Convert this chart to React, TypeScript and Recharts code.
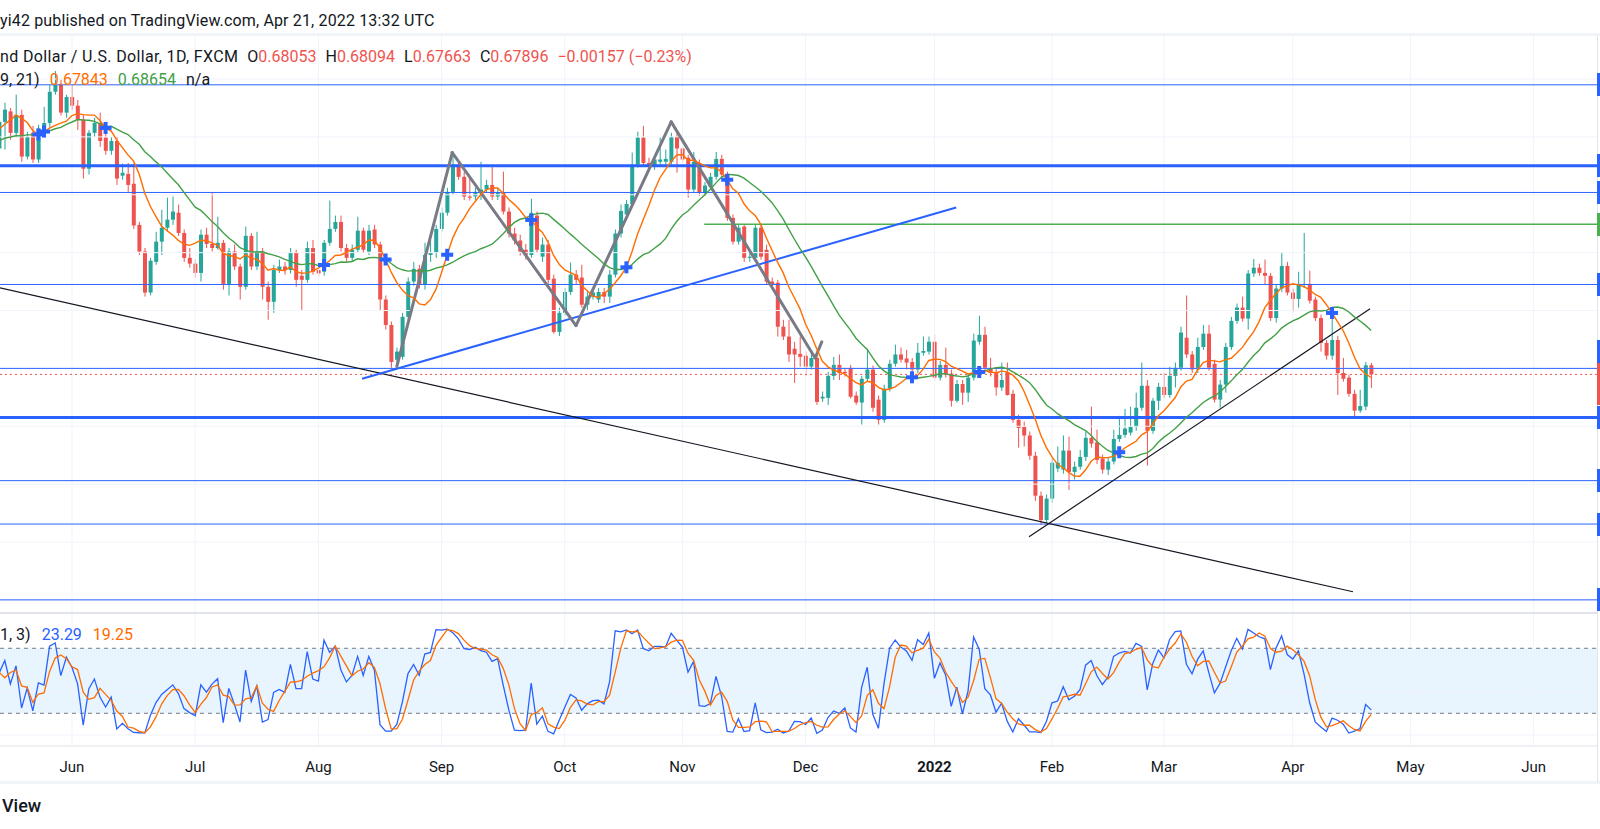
import React from 'react';
import { Bar, ComposedChart, Line, ReferenceArea, ReferenceLine, XAxis, YAxis } from 'recharts';

// NZD/USD, 1D, FXCM. One row per weekday: [open, high, low, close] in pips (price x 10000).
// Apr 12 - May 12 2021 lie left of the visible window; they only feed the 9/21 averages and the stochastic.
const priorBars = [
  [7020, 7045, 7005, 7030], [7030, 7095, 7020, 7090], [7090, 7150, 7080, 7140], [7140, 7170, 7125, 7160], [7160, 7180, 7145, 7165],
  [7165, 7200, 7150, 7190], [7190, 7215, 7160, 7170], [7170, 7185, 7140, 7165], [7165, 7185, 7145, 7160], [7160, 7200, 7150, 7190],
  [7190, 7215, 7180, 7200], [7200, 7210, 7165, 7180], [7180, 7225, 7170, 7215], [7215, 7225, 7180, 7195], [7195, 7200, 7145, 7155],
  [7155, 7180, 7140, 7170], [7170, 7175, 7120, 7140], [7140, 7170, 7130, 7165], [7165, 7225, 7155, 7215], [7215, 7290, 7205, 7265],
  [7265, 7305, 7255, 7285], [7285, 7295, 7250, 7275], [7275, 7285, 7165, 7180],
];

const may21 = [
  [7180, 7238, 7161, 7226], [7226, 7259, 7178, 7247], [7244, 7250, 7195, 7207], [7207, 7273, 7199, 7238], [7238, 7247, 7157, 7166],
  [7166, 7209, 7161, 7200], [7207, 7219, 7155, 7161], [7161, 7221, 7155, 7214], [7214, 7252, 7207, 7224], [7224, 7290, 7216, 7278],
  [7278, 7314, 7273, 7290], [7290, 7299, 7237, 7242], [7242, 7273, 7233, 7269],
];

const jun21 = [
  [7269, 7290, 7247, 7254], [7254, 7264, 7212, 7230], [7230, 7238, 7128, 7145], [7145, 7212, 7135, 7207], [7207, 7233, 7200, 7224],
  [7224, 7242, 7183, 7193], [7199, 7212, 7169, 7176], [7176, 7200, 7169, 7193], [7193, 7200, 7117, 7128], [7133, 7154, 7126, 7138],
  [7136, 7155, 7105, 7117], [7119, 7154, 7041, 7047], [7048, 7053, 6996, 7002], [7002, 7008, 6924, 6931], [6931, 6991, 6926, 6986],
  [6984, 7036, 6979, 7019], [7019, 7074, 6996, 7043], [7043, 7095, 7036, 7057], [7057, 7097, 7048, 7071], [7069, 7083, 7029, 7034],
  [7034, 7040, 6984, 6991], [6991, 7008, 6974, 6981],
];

const jul21 = [
  [6981, 6988, 6957, 6965], [6965, 7040, 6950, 7031], [7031, 7043, 7008, 7015], [7015, 7103, 7002, 7008], [7008, 7062, 7005, 7017],
  [7017, 7022, 6936, 6946], [6946, 7008, 6926, 7002], [7002, 7014, 6970, 6976], [6976, 6981, 6919, 6941], [6941, 7045, 6936, 7029],
  [7029, 7034, 6970, 6976], [6976, 7036, 6970, 7002], [7002, 7008, 6919, 6941], [6941, 6950, 6884, 6915], [6915, 6979, 6896, 6970],
  [6970, 6988, 6965, 6976], [6976, 6984, 6962, 6970], [6970, 7008, 6964, 7000], [7000, 7005, 6941, 6953], [6960, 6970, 6901, 6953],
  [6953, 7019, 6948, 7008], [7008, 7022, 6962, 6967],
];

const aug21 = [
  [6970, 6981, 6957, 6964], [6967, 7022, 6960, 7017], [7017, 7090, 7012, 7041], [7041, 7064, 7036, 7053], [7053, 7064, 7002, 7008],
  [7008, 7015, 6984, 6991], [6991, 7014, 6984, 7005], [7005, 7062, 7000, 7038], [7038, 7043, 7000, 7005], [7002, 7048, 6996, 7038],
  [7040, 7048, 7008, 7014], [7014, 7019, 6901, 6919], [6919, 6926, 6867, 6875], [6875, 6881, 6801, 6811], [6815, 6836, 6803, 6829],
  [6820, 6896, 6815, 6889], [6889, 6957, 6884, 6950], [6950, 6984, 6943, 6972], [6972, 6979, 6938, 6945], [6945, 7017, 6936, 6996],
  [6996, 7022, 6984, 7000], [7000, 7048, 6991, 7041],
];

const sep21 = [
  [7041, 7078, 7036, 7069], [7069, 7112, 7064, 7105], [7105, 7173, 7100, 7152], [7152, 7157, 7126, 7131], [7131, 7140, 7091, 7097],
  [7097, 7129, 7090, 7095], [7097, 7112, 7091, 7105], [7105, 7157, 7091, 7109], [7109, 7126, 7103, 7117], [7117, 7152, 7091, 7097],
  [7097, 7112, 7091, 7103], [7103, 7140, 7066, 7071], [7071, 7078, 7026, 7033], [7033, 7043, 7014, 7021], [7021, 7031, 6995, 7002],
  [7005, 7015, 6988, 6996], [6996, 7093, 6991, 7069], [7064, 7071, 7000, 7005], [6993, 7026, 6984, 7014], [7014, 7022, 6946, 6953],
  [6955, 6962, 6860, 6863], [6863, 6905, 6856, 6896],
];

const oct21 = [
  [6896, 6939, 6891, 6932], [6932, 6983, 6927, 6962], [6962, 6970, 6946, 6953], [6957, 6979, 6905, 6910], [6910, 6932, 6901, 6924],
  [6924, 6939, 6919, 6931], [6919, 6939, 6913, 6932], [6932, 6939, 6913, 6924], [6924, 6970, 6913, 6962], [6962, 7040, 6957, 7033],
  [7033, 7083, 7026, 7072], [7066, 7091, 7060, 7084], [7084, 7173, 7079, 7152], [7152, 7209, 7147, 7199], [7199, 7219, 7148, 7155],
  [7155, 7164, 7143, 7148], [7148, 7169, 7143, 7161], [7157, 7199, 7152, 7161], [7157, 7178, 7152, 7162], [7157, 7207, 7152, 7200],
  [7200, 7207, 7138, 7180],
];

const nov21 = [
  [7180, 7183, 7155, 7161], [7164, 7169, 7095, 7109], [7109, 7174, 7103, 7157], [7155, 7161, 7098, 7103], [7103, 7122, 7098, 7116],
  [7114, 7138, 7109, 7131], [7131, 7174, 7126, 7162], [7162, 7169, 7129, 7135], [7135, 7140, 7055, 7060], [7060, 7066, 7014, 7019],
  [7019, 7050, 7014, 7043], [7045, 7048, 6984, 6991], [6991, 7005, 6984, 6993], [6991, 7048, 6988, 7043], [7043, 7048, 6988, 6993],
  [7005, 7014, 6945, 6950], [6950, 6957, 6939, 6945], [6948, 6953, 6855, 6872], [6872, 6884, 6849, 6855], [6855, 6884, 6811, 6824],
  [6834, 6846, 6775, 6824], [6825, 6855, 6803, 6820],
];

const dec21 = [
  [6822, 6829, 6787, 6803], [6803, 6832, 6798, 6818], [6818, 6829, 6737, 6742], [6748, 6760, 6742, 6751], [6749, 6794, 6737, 6787],
  [6787, 6820, 6780, 6806], [6806, 6824, 6780, 6792], [6794, 6801, 6786, 6792], [6801, 6806, 6748, 6751], [6753, 6760, 6737, 6741],
  [6741, 6787, 6703, 6782], [6782, 6834, 6777, 6798], [6798, 6805, 6725, 6732], [6746, 6753, 6703, 6711], [6711, 6772, 6706, 6765],
  [6765, 6815, 6760, 6808], [6808, 6841, 6803, 6824], [6824, 6836, 6810, 6815], [6817, 6832, 6798, 6810], [6811, 6818, 6794, 6798],
  [6798, 6844, 6792, 6827], [6827, 6855, 6822, 6830], [6829, 6855, 6824, 6846],
];

const jan22 = [
  [6846, 6858, 6779, 6784], [6784, 6813, 6779, 6806], [6806, 6836, 6784, 6789], [6791, 6798, 6734, 6744], [6744, 6780, 6741, 6773],
  [6773, 6780, 6737, 6758], [6758, 6791, 6742, 6784], [6784, 6860, 6779, 6848], [6846, 6891, 6841, 6858], [6858, 6872, 6796, 6801],
  [6801, 6818, 6786, 6792], [6794, 6801, 6753, 6767], [6767, 6810, 6761, 6780], [6794, 6810, 6753, 6754], [6756, 6763, 6706, 6711],
  [6711, 6720, 6663, 6697], [6699, 6708, 6665, 6684], [6684, 6691, 6642, 6649], [6649, 6656, 6571, 6580], [6580, 6587, 6530, 6538],
  [6538, 6582, 6533, 6575],
];

const feb22 = [
  [6575, 6646, 6568, 6637], [6627, 6665, 6621, 6637], [6625, 6684, 6618, 6658], [6658, 6682, 6590, 6621], [6621, 6639, 6608, 6630],
  [6630, 6659, 6625, 6647], [6647, 6691, 6640, 6680], [6680, 6734, 6663, 6670], [6672, 6694, 6635, 6642], [6644, 6651, 6618, 6625],
  [6625, 6646, 6616, 6639], [6639, 6694, 6634, 6678], [6678, 6718, 6673, 6685], [6685, 6730, 6680, 6696], [6689, 6734, 6684, 6699],
  [6699, 6758, 6692, 6732], [6732, 6810, 6727, 6770], [6770, 6780, 6632, 6692], [6692, 6749, 6687, 6744], [6744, 6775, 6728, 6768],
];

const mar22 = [
  [6768, 6792, 6749, 6754], [6754, 6803, 6749, 6787], [6787, 6810, 6767, 6801], [6801, 6872, 6796, 6862], [6853, 6926, 6818, 6824],
  [6824, 6830, 6792, 6798], [6798, 6853, 6792, 6837], [6837, 6875, 6832, 6860], [6860, 6875, 6796, 6801], [6808, 6815, 6741, 6746],
  [6746, 6780, 6732, 6772], [6772, 6844, 6758, 6837], [6837, 6889, 6832, 6882], [6882, 6912, 6877, 6905], [6905, 6924, 6881, 6886],
  [6886, 6970, 6867, 6964], [6964, 6989, 6958, 6974], [6974, 6981, 6960, 6965], [6965, 6988, 6945, 6960], [6960, 6965, 6882, 6887],
  [6887, 6945, 6879, 6938], [6938, 7000, 6932, 6977], [6977, 6984, 6926, 6931],
];

const apr22 = [
  [6931, 6938, 6898, 6920], [6920, 6967, 6905, 6946], [6945, 7034, 6939, 6946], [6946, 6969, 6912, 6917], [6919, 6924, 6882, 6887],
  [6887, 6893, 6829, 6844], [6844, 6849, 6815, 6822], [6822, 6893, 6815, 6849], [6849, 6856, 6754, 6792], [6792, 6818, 6777, 6782],
  [6784, 6789, 6751, 6756], [6756, 6763, 6716, 6727], [6727, 6763, 6723, 6735], [6734, 6811, 6728, 6805.3], [6805.3, 6809.4, 6766.3, 6789.6],
];

// bar index (0 = Jun 1 2021) of each month's first session, and the axis text
const monthStarts = [0, 22, 44, 66, 88, 109, 131, 154, 175, 195, 218, 239, 261];
const monthNames = ['Jun', 'Jul', 'Aug', 'Sep', 'Oct', 'Nov', 'Dec', '2022', 'Feb', 'Mar', 'Apr', 'May', 'Jun'];

const priceGrid = [0.64, 0.65, 0.66, 0.67, 0.68, 0.69, 0.7, 0.71, 0.72, 0.73];
const thinLevels = [0.729, 0.7104, 0.6945, 0.68, 0.6606, 0.6531, 0.64];
const thickLevels = [0.715, 0.6715];
const greenLevel = 0.7049;
const greenLevelFrom = 112.9;
const lastClose = 0.67896;

// drawings, anchored as [bar index, price]
const trendDown = [[-12.86, 0.6939], [228.75, 0.6414]];
const trendUp = [[170.9, 0.6509], [231.8, 0.6903]];
const blueTrend = [[51.8, 0.6782], [157.9, 0.7078]];
const zigzag = [[58.0, 0.6803], [67.9, 0.7173], [90.0, 0.6874], [107.0, 0.7226], [132.7, 0.6818], [133.9, 0.6846]];

const W = 1597;
const MAIN_TOP = 36;
const MAIN_H = 578;
const STOCH_TOP = 614;
const STOCH_H = 132;
const AXIS_H = 36;
const K_LEFT = -12.857;
const K_RIGHT = 272.32;
const P_LOW = 0.637557;
const P_HIGH = 0.737436;
const S_LOW = -10.2;
const S_HIGH = 111.66;

const UP = '#26a69a';
const DOWN = '#ef5350';
const GRID = '#f0f3fa';
const FONT = 'Roboto, "Noto Sans", sans-serif';

const allBars = [...priorBars, ...may21, ...jun21, ...jul21, ...aug21, ...sep21, ...oct21, ...nov21, ...dec21, ...jan22, ...feb22, ...mar22, ...apr22];
const firstK = -13 - priorBars.length;

type Row = {
  k: number; o: number; h: number; l: number; c: number;
  ma9?: number | null; ma21?: number | null; cross?: number | null; stK?: number | null; stD?: number | null;
};

const rows: Row[] = allBars.map(([o, h, l, c], i) => ({ k: firstK + i, o: o / 1e4, h: h / 1e4, l: l / 1e4, c: c / 1e4 }));

function sma(values: (number | null | undefined)[], n: number, i: number) {
  if (i < n - 1) return null;
  let s = 0;
  for (let j = i - n + 1; j <= i; j++) {
    const v = values[j];
    if (v == null) return null;
    s += v;
  }
  return s / n;
}

const closes = rows.map((r) => r.c);
rows.forEach((r, i) => {
  r.ma9 = sma(closes, 9, i);
  r.ma21 = sma(closes, 21, i);
  if (i >= 13) {
    let hh = -Infinity;
    let ll = Infinity;
    for (let j = i - 13; j <= i; j++) {
      hh = Math.max(hh, rows[j].h);
      ll = Math.min(ll, rows[j].l);
    }
    r.stK = (100 * (r.c - ll)) / (hh - ll);
  } else r.stK = null;
});
const kValues = rows.map((r) => r.stK);
rows.forEach((r, i) => {
  r.stD = sma(kValues, 3, i);
  const p = rows[i - 1];
  r.cross = null;
  if (p && p.ma9 != null && p.ma21 != null && r.ma9 != null && r.ma21 != null) {
    if (Math.sign(p.ma9 - p.ma21) !== Math.sign(r.ma9 - r.ma21)) r.cross = r.ma9;
  }
});

const visible = rows.filter((r) => r.k >= -13);

function Candle(props: any) {
  const { x, y, width, height, payload } = props;
  if (x == null || y == null || !payload) return <g />;
  const { o, h, l, c } = payload as Row;
  const top = height >= 0 ? y : y + height;
  const span = Math.abs(height);
  const range = h - l || 1e-9;
  const py = (v: number) => top + ((h - v) / range) * span;
  const color = c >= o ? UP : DOWN;
  const cx = x + width / 2;
  const bTop = py(Math.max(o, c));
  const bBot = py(Math.min(o, c));
  return (
    <g>
      <rect x={cx - 0.5} y={top} width={1} height={Math.max(span, 1)} fill={color} />
      <rect x={x} y={bTop} width={width} height={Math.max(bBot - bTop, 1)} fill={color} />
    </g>
  );
}

function CrossDot(props: any) {
  const { cx, cy, value, index } = props;
  if (value == null || cx == null || cy == null || Number.isNaN(cy)) return <g key={`c${index}`} />;
  return (
    <g key={`c${index}`}>
      <rect x={cx - 6} y={cy - 2} width={12} height={4} fill="#2962ff" />
      <rect x={cx - 2} y={cy - 6} width={4} height={12} fill="#2962ff" />
    </g>
  );
}

function MonthTick(props: any) {
  const { x, y, payload } = props;
  const i = monthStarts.indexOf(payload.value);
  const label = monthNames[i] ?? '';
  return (
    <text x={x} y={y + 19} textAnchor="middle" dominantBaseline="central" fill="#131722" fontSize={15}
      fontWeight={label === '2022' ? 700 : 400} fontFamily={FONT}>
      {label}
    </text>
  );
}

const yOfPrice = (p: number) => MAIN_TOP + ((P_HIGH - p) / (P_HIGH - P_LOW)) * MAIN_H;

export default function App() {
  const stubs = [
    ...thinLevels.filter((p) => p !== 0.68).map((p) => ({ top: yOfPrice(p) - 11.5, h: 23, color: '#2962ff' })),
    ...thickLevels.map((p) => ({ top: yOfPrice(p) - 11.5, h: 23, color: '#2962ff' })),
    { top: yOfPrice(greenLevel) - 11.5, h: 23, color: '#4caf50' },
    { top: yOfPrice(lastClose) - 34.5, h: 23, color: '#2962ff' },
    { top: yOfPrice(lastClose) - 11.5, h: 42, color: DOWN },
  ];

  const legendRow: React.CSSProperties = {
    position: 'absolute', left: 0, display: 'flex', gap: 10, fontSize: 16, lineHeight: '20px',
    fontFamily: FONT, color: '#131722', whiteSpace: 'nowrap',
  };

  return (
    <div style={{ position: 'relative', width: 1600, height: 829, overflow: 'hidden', background: '#fff', fontFamily: FONT }}>
      <style>{'body{margin:0}'}</style>

      <div style={{ position: 'absolute', left: 0, top: 33, width: 1600, height: 3, background: GRID }} />

      <div style={{ position: 'absolute', left: 0, top: MAIN_TOP }}>
        <ComposedChart width={W} height={MAIN_H} data={visible} margin={{ top: 0, right: 0, bottom: 0, left: 0 }}>
          <XAxis dataKey="k" type="number" domain={[K_LEFT, K_RIGHT]} allowDataOverflow hide />
          <YAxis type="number" domain={[P_LOW, P_HIGH]} allowDataOverflow hide />
          {priceGrid.map((p) => (
            <ReferenceLine key={`g${p}`} y={p} stroke={GRID} strokeWidth={1} />
          ))}
          {monthStarts.map((m) => (
            <ReferenceLine key={`v${m}`} x={m} stroke={GRID} strokeWidth={1} />
          ))}
          {thinLevels.map((p) => (
            <ReferenceLine key={`t${p}`} y={p} stroke="#2962ff" strokeWidth={1} />
          ))}
          {thickLevels.map((p) => (
            <ReferenceLine key={`b${p}`} y={p} stroke="#2962ff" strokeWidth={3} />
          ))}
          <ReferenceLine segment={[{ x: greenLevelFrom, y: greenLevel }, { x: K_RIGHT, y: greenLevel }]} stroke="#4caf50" strokeWidth={1.5} ifOverflow="hidden" />
          <ReferenceLine y={lastClose} stroke={DOWN} strokeWidth={1} strokeDasharray="2 3" />
          <ReferenceLine segment={trendDown.map(([x, y]) => ({ x, y }))} stroke="#131722" strokeWidth={1.2} ifOverflow="hidden" />
          <ReferenceLine segment={trendUp.map(([x, y]) => ({ x, y }))} stroke="#131722" strokeWidth={1.2} ifOverflow="hidden" />
          <ReferenceLine segment={blueTrend.map(([x, y]) => ({ x, y }))} stroke="#2962ff" strokeWidth={2} ifOverflow="hidden" />
          {zigzag.slice(1).map(([x, y], i) => (
            <ReferenceLine key={`z${i}`} segment={[{ x: zigzag[i][0], y: zigzag[i][1] }, { x, y }]} stroke="#787b86" strokeWidth={3} strokeLinecap="round" ifOverflow="hidden" />
          ))}
          <Bar dataKey={(d: Row) => [d.l, d.h]} barSize={4} shape={(p: any) => <Candle {...p} />} isAnimationActive={false} />
          <Line dataKey="ma21" stroke="#43a047" strokeWidth={1.4} dot={false} activeDot={false} isAnimationActive={false} />
          <Line dataKey="ma9" stroke="#ff6d00" strokeWidth={1.4} dot={false} activeDot={false} isAnimationActive={false} />
          <Line dataKey="cross" stroke="none" dot={(p: any) => <CrossDot {...p} />} activeDot={false} isAnimationActive={false} />
        </ComposedChart>
      </div>

      <div style={{ position: 'absolute', left: 0, top: STOCH_TOP }}>
        <ComposedChart width={W} height={STOCH_H + AXIS_H} data={visible} margin={{ top: 0, right: 0, bottom: 0, left: 0 }}>
          <XAxis dataKey="k" type="number" domain={[K_LEFT, K_RIGHT]} allowDataOverflow ticks={monthStarts} interval={0}
            height={AXIS_H} tickLine={false} tickSize={0} tick={(p: any) => <MonthTick {...p} />} axisLine={{ stroke: '#e0e3eb' }} />
          <YAxis type="number" domain={[S_LOW, S_HIGH]} allowDataOverflow hide />
          <ReferenceArea y1={20} y2={80} fill="#2196f3" fillOpacity={0.1} stroke="none" />
          {[0, 40].map((v) => (
            <ReferenceLine key={`sg${v}`} y={v} stroke={GRID} strokeWidth={1} />
          ))}
          {monthStarts.map((m) => (
            <ReferenceLine key={`sv${m}`} x={m} stroke={GRID} strokeWidth={1} />
          ))}
          <ReferenceLine y={80} stroke="#787b86" strokeDasharray="4 4" strokeWidth={1} />
          <ReferenceLine y={20} stroke="#787b86" strokeDasharray="4 4" strokeWidth={1} />
          <Line dataKey="stK" stroke="#2962ff" strokeWidth={1.3} dot={false} activeDot={false} isAnimationActive={false} />
          <Line dataKey="stD" stroke="#ff6d00" strokeWidth={1.3} dot={false} activeDot={false} isAnimationActive={false} />
        </ComposedChart>
      </div>

      <div style={{ position: 'absolute', left: 0, top: 612, width: W, height: 2, background: '#e0e3eb' }} />
      <div style={{ position: 'absolute', left: 0, top: 781, width: 1600, height: 3, background: GRID }} />
      <div style={{ position: 'absolute', left: W, top: MAIN_TOP, width: 1, height: 746, background: '#e0e3eb' }} />
      {stubs.map((s, i) => (
        <div key={i} style={{ position: 'absolute', left: W, top: s.top, width: 3, height: s.h, background: s.color }} />
      ))}

      <div style={{ ...legendRow, top: 11, letterSpacing: 0.15 }}>yi42 published on TradingView.com, Apr 21, 2022 13:32 UTC</div>
      <div style={{ ...legendRow, top: 47, gap: 9 }}>
        <span style={{ letterSpacing: 0.35 }}>nd Dollar / U.S. Dollar, 1D, FXCM</span>
        <span>O<span style={{ color: DOWN }}>0.68053</span></span>
        <span>H<span style={{ color: DOWN }}>0.68094</span></span>
        <span>L<span style={{ color: DOWN }}>0.67663</span></span>
        <span>C<span style={{ color: DOWN }}>0.67896</span></span>
        <span style={{ color: DOWN }}>−0.00157 (−0.23%)</span>
      </div>
      <div style={{ ...legendRow, top: 70 }}>
        <span>9, 21)</span>
        <span style={{ color: '#ff6d00' }}>0.67843</span>
        <span style={{ color: '#43a047' }}>0.68654</span>
        <span>n/a</span>
      </div>
      <div style={{ ...legendRow, top: 625, gap: 11 }}>
        <span>1, 3)</span>
        <span style={{ color: '#2962ff' }}>23.29</span>
        <span style={{ color: '#ff6d00' }}>19.25</span>
      </div>
      <div style={{ position: 'absolute', left: 2, top: 795, fontSize: 18, fontWeight: 500, color: '#131722', fontFamily: FONT, whiteSpace: 'nowrap', lineHeight: '22px' }}>
        View
      </div>
    </div>
  );
}
